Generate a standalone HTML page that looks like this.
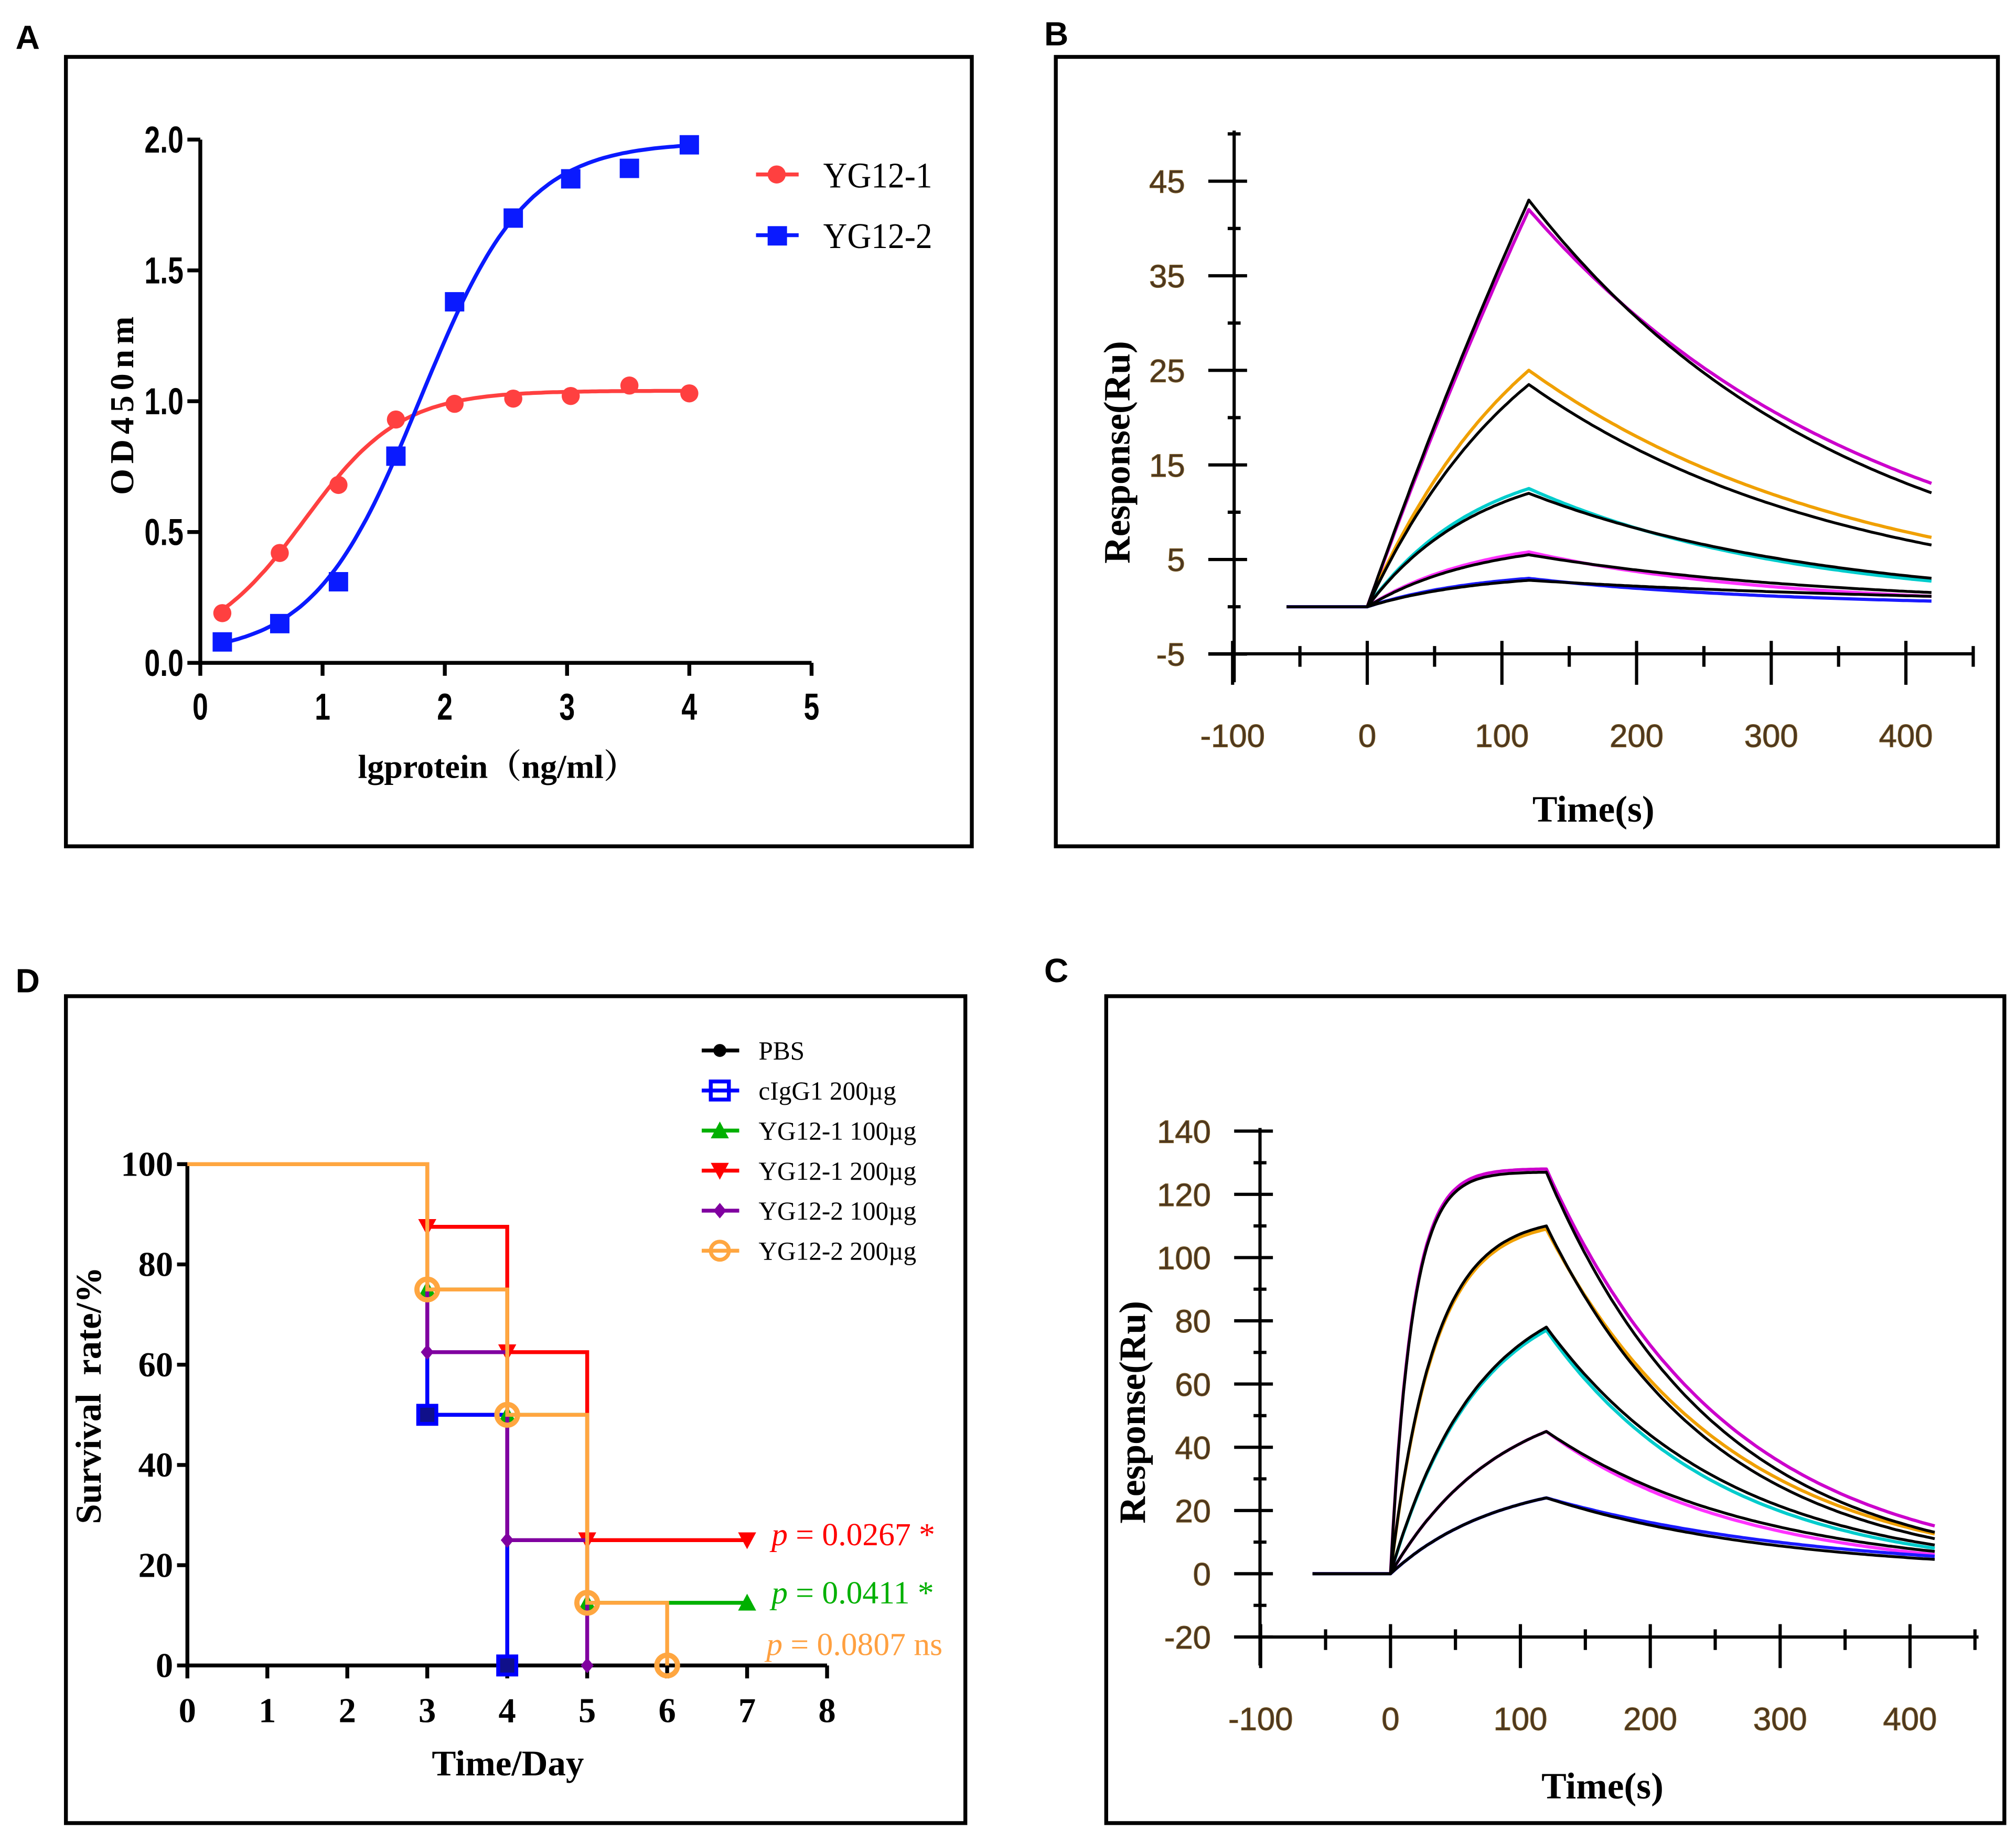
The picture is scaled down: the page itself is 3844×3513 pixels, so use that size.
<!DOCTYPE html>
<html><head><meta charset="utf-8"><style>
html,body{margin:0;padding:0;background:#fff;}
svg{display:block;}
.serif{font-family:"Liberation Serif",serif;}
.sans{font-family:"Liberation Sans",sans-serif;}
</style></head><body>
<svg id="fig" xmlns="http://www.w3.org/2000/svg" width="3844" height="3513" viewBox="0 0 1560 1425.6">
<rect width="1560" height="1425.6" fill="#fff"/>
<text x="12" y="38" class="sans" font-weight="bold" font-size="26">A</text>
<text x="808" y="35" class="sans" font-weight="bold" font-size="26">B</text>
<text x="12" y="768" class="sans" font-weight="bold" font-size="26">D</text>
<text x="808" y="760" class="sans" font-weight="bold" font-size="26">C</text>
<rect x="51" y="44" width="701" height="611" fill="none" stroke="#000" stroke-width="3"/>
<rect x="817" y="44" width="729" height="611" fill="none" stroke="#000" stroke-width="3"/>
<rect x="51" y="771" width="696" height="640" fill="none" stroke="#000" stroke-width="3"/>
<rect x="856" y="771" width="695" height="640" fill="none" stroke="#000" stroke-width="3"/>
<g id="A"></g>
<g id="B"></g>
<g id="C"></g>
<g id="D"></g>
</svg>
<script>
// ---------- Panel A data ----------
const aX = [0.18, 0.65, 1.13, 1.6, 2.08, 2.56, 3.03, 3.51, 4.0];
const aRed = [0.19, 0.42, 0.68, 0.93, 0.99, 1.01, 1.02, 1.06, 1.03];
const aBlue = [0.08, 0.15, 0.31, 0.79, 1.38, 1.70, 1.85, 1.89, 1.98];
const aRedFit = [0.05, 1.04, 0.85, 1.1];
const aBlueFit = [0.03, 1.99, 1.8, 1.0];
const aXTicks = ['0','1','2','3','4','5'];
const aYTicks = ['0.0','0.5','1.0','1.5','2.0'];
// ---------- Panel B data ----------
const bPeakFit = [43, 23.5, 12, 5.5, 2.8];
const bEndFit = [12, 6.5, 3, 1.5, 1.1];
const bPeakObs = [42, 25, 12.5, 5.8, 3.0];
const bEndObs = [13, 7.3, 2.7, 1.1, 0.6];
const bKa = [0.002, 0.008, 0.012, 0.012, 0.012];
const bColors = ['#cc00cc', '#f0a000', '#00cccc', '#ff33ff', '#1a1aff'];
const bXTicks = ['-100','0','100','200','300','400'];
const bYTicks = ['-5','5','15','25','35','45'];
// ---------- Panel C data ----------
const cPeakFit = [127, 110, 78, 45, 24];
const cEndFit = [13, 11, 9, 7, 4.5];
const cPeakObs = [128, 109, 77, 45, 24];
const cEndObs = [15, 12.5, 8, 6, 5.5];
const cKa = [0.06, 0.03, 0.015, 0.012, 0.012];
const cColors = ['#cc00cc', '#f0a000', '#00cccc', '#ff33ff', '#1a1aff'];
const cXTicks = ['-100','0','100','200','300','400'];
const cYTicks = ['-20','0','20','40','60','80','100','120','140'];
// ---------- Panel D data ----------
const dNames = ['PBS','cIgG1 200µg','YG12-1 100µg','YG12-1 200µg','YG12-2 100µg','YG12-2 200µg'];
const dColors = ['#000000','#0000ff','#00b000','#ff0000','#8000a0','#ffa640'];
const dDays = [0, 3, 4, 5, 6, 7];
const dPBS = [100, 50, 0, null, null, null];
const dIgG = [100, 50, 0, null, null, null];
const dYG11 = [100, 75, 50, 12.5, 12.5, 12.5];
const dYG12 = [100, 87.5, 62.5, 25, 25, 25];
const dYG21 = [100, 62.5, 25, 0, null, null];
const dYG22 = [100, 75, 50, 12.5, 0, null];
const dXTicks = ['0','1','2','3','4','5','6','7','8'];
const dYTicks = ['0','20','40','60','80','100'];
const dPvals = ['0.0267 *','0.0411 *','0.0807 ns'];

const NS = 'http://www.w3.org/2000/svg';
function mk(parent, tag, attrs, txt){
  const e = document.createElementNS(NS, tag);
  for (const k in attrs) e.setAttribute(k, attrs[k]);
  if (txt !== undefined) e.textContent = txt;
  parent.appendChild(e);
  return e;
}
function logistic(p, x){ return p[0] + (p[1]-p[0])/(1+Math.pow(10,(p[2]-x)*p[3])); }

// ================= Panel A =================
(function(){
  const g = document.getElementById('A');
  const sx = v => 155 + v*(628-155)/5;
  const sy = v => 513 - v*(513-108)/2;
  let ax = mk(g,'path',{d:`M155,108 V513 H628`,fill:'none',stroke:'#000','stroke-width':3});
   
  aXTicks.forEach((t,i)=>{
    const x = sx(+t);
    mk(g,'line',{x1:x,y1:513,x2:x,y2:523,stroke:'#000','stroke-width':3});
    const tx = mk(g,'text',{x:x,y:557,'text-anchor':'middle','font-family':'Liberation Sans, sans-serif','font-weight':'bold','font-size':29,transform:`translate(${x},0) scale(0.75,1) translate(${-x},0)`},t);
     
  });
  aYTicks.forEach(t=>{
    const y = sy(+t);
    mk(g,'line',{x1:145,y1:y,x2:155,y2:y,stroke:'#000','stroke-width':3});
    const tx = mk(g,'text',{x:142,y:y+10,'text-anchor':'end','font-family':'Liberation Sans, sans-serif','font-weight':'bold','font-size':29,transform:`translate(142,0) scale(0.75,1) translate(-142,0)`},t);
     
  });
  let yt = mk(g,'text',{x:0,y:0,transform:'translate(103,312) rotate(-90)','text-anchor':'middle','font-family':'Liberation Serif, serif','font-weight':'bold','font-size':26,'letter-spacing':4},'OD450nm');
   
  let xt = mk(g,'text',{x:385,y:602,'text-anchor':'middle','font-family':'Liberation Serif, Noto Serif CJK SC, serif','font-weight':'bold','font-size':26},'lgprotein（ng/ml）');
   
  function curve(p, col, name){
    let d=''; for(let i=0;i<=120;i++){const x=0.18+i*(4.0-0.18)/120; d+=(i?'L':'M')+sx(x).toFixed(1)+','+sy(logistic(p,x)).toFixed(1);}
    const e = mk(g,'path',{d:d,fill:'none',stroke:col,'stroke-width':3});
     
  }
  curve(aRedFit,'#ff4040','yg12-1-fit-curve');
  curve(aBlueFit,'#0a1aff','yg12-2-fit-curve');
  aX.forEach((x,i)=>{
    const c = mk(g,'circle',{cx:sx(x),cy:sy(aRed[i]),r:7,fill:'#ff4040'});
     
    const r = mk(g,'rect',{x:sx(x)-7.5,y:sy(aBlue[i])-7.5,width:15,height:15,fill:'#0a1aff'});
     
  });
  const lg = mk(g,'g',{});
   
  mk(lg,'line',{x1:585,y1:135,x2:618,y2:135,stroke:'#ff4040','stroke-width':3});
  mk(lg,'circle',{cx:601,cy:135,r:7,fill:'#ff4040'});
  mk(lg,'text',{x:637,y:145,'font-family':'Liberation Serif, serif','font-size':28,transform:'translate(637,0) scale(0.92,1) translate(-637,0)'},'YG12-1');
  mk(lg,'line',{x1:585,y1:182,x2:618,y2:182,stroke:'#0a1aff','stroke-width':3});
  mk(lg,'rect',{x:594,y:175,width:15,height:15,fill:'#0a1aff'});
  mk(lg,'text',{x:637,y:192,'font-family':'Liberation Serif, serif','font-size':28,transform:'translate(637,0) scale(0.92,1) translate(-637,0)'},'YG12-2');
})();

// ================= SPR panels =================
function sprPanel(id, o){
  const g = document.getElementById(id);
  const sx = v => o.x0 + v*o.pxPer100/100;
  const sy = v => o.yZero - v*o.pxPerUnit;
  const axc = '#000';
  let ya = mk(g,'line',{x1:o.yAxisX,y1:o.yTop,x2:o.yAxisX,y2:o.xAxisY+22,stroke:axc,'stroke-width':2.5});
   
  let xa = mk(g,'line',{x1:o.yAxisX-20,y1:o.xAxisY,x2:o.xEnd,y2:o.xAxisY,stroke:axc,'stroke-width':2.5});
   
  o.yTicks.forEach((t,i)=>{
    const y = sy(+t);
    mk(g,'line',{x1:o.yAxisX-20,y1:y,x2:o.yAxisX+10,y2:y,stroke:axc,'stroke-width':2.5});
    if(i<o.yTicks.length-1 || o.extraMinor){ const ym = sy(+t + o.yStep/2); mk(g,'line',{x1:o.yAxisX-5,y1:ym,x2:o.yAxisX+5,y2:ym,stroke:axc,'stroke-width':2.5}); }
    const tx = mk(g,'text',{x:o.yAxisX-38,y:y+9,'text-anchor':'end','font-family':'Liberation Sans, sans-serif','font-size':25,fill:'#4b3621',stroke:'#7a5a20','stroke-width':0.5},t);
     
  });
  o.xTicks.forEach(t=>{
    const x = sx(+t);
    mk(g,'line',{x1:x,y1:o.xAxisY-10,x2:x,y2:o.xAxisY+24,stroke:axc,'stroke-width':2.5});
    const xm = sx(+t+50);
    mk(g,'line',{x1:xm,y1:o.xAxisY-6,x2:xm,y2:o.xAxisY+10,stroke:axc,'stroke-width':2.5});
    const tx = mk(g,'text',{x:x,y:o.xAxisY+72,'text-anchor':'middle','font-family':'Liberation Sans, sans-serif','font-size':25,fill:'#4b3621',stroke:'#7a5a20','stroke-width':0.5},t);
     
  });
  let yt = mk(g,'text',{x:0,y:0,transform:`translate(${o.yTitleX},${o.yTitleY}) rotate(-90)`,'text-anchor':'middle','font-family':'Liberation Serif, serif','font-weight':'bold','font-size':29},'Response(Ru)');
   
  let xt = mk(g,'text',{x:o.xTitleX,y:o.xTitleY,'text-anchor':'middle','font-family':'Liberation Serif, serif','font-weight':'bold','font-size':29},'Time(s)');
   
  function trace(peak,end,ka,col,name,w){
    const kd = Math.log(peak/end)/300;
    let d = `M${sx(-60).toFixed(1)},${sy(0).toFixed(1)}L${sx(0).toFixed(1)},${sy(0).toFixed(1)}`;
    for(let t=2;t<=120;t+=2){ const v = peak*(1-Math.exp(-ka*t))/(1-Math.exp(-ka*120)); d+=`L${sx(t).toFixed(1)},${sy(v).toFixed(1)}`; }
    for(let t=122;t<=420;t+=3){ const v = peak*Math.exp(-kd*(t-120)); d+=`L${sx(t).toFixed(1)},${sy(v).toFixed(1)}`; }
    const e = mk(g,'path',{d:d,fill:'none',stroke:col,'stroke-width':w,'stroke-linejoin':'round'});
     
  }
  o.peakObs.forEach((p,i)=>trace(p,o.endObs[i],o.ka[i],o.colors[i],id.toLowerCase()+'-observed-trace',2.5));
  o.peakFit.forEach((p,i)=>trace(p,o.endFit[i],o.ka[i],'#000',id.toLowerCase()+'-fit-trace',2.2));
}
sprPanel('B',{x0:1058,pxPer100:104.2,yZero:469.6,pxPerUnit:7.32,yAxisX:955,yTop:101,xAxisY:506,xEnd:1527,
  yTicks:bYTicks,yStep:10,xTicks:bXTicks,yTitleX:874,yTitleY:350,xTitleX:1233,xTitleY:636,
  peakFit:bPeakFit,endFit:bEndFit,peakObs:bPeakObs,endObs:bEndObs,ka:bKa,colors:bColors,extraMinor:true});
sprPanel('C',{x0:1076,pxPer100:100.5,yZero:1218,pxPerUnit:2.447,yAxisX:975,yTop:873,xAxisY:1267,xEnd:1531,
  yTicks:cYTicks,yStep:20,xTicks:cXTicks,yTitleX:886,yTitleY:1093,xTitleX:1240,xTitleY:1392,
  peakFit:cPeakFit,endFit:cEndFit,peakObs:cPeakObs,endObs:cEndObs,ka:cKa,colors:cColors,extraMinor:false});

// ================= Panel D =================
(function(){
  const g = document.getElementById('D');
  const sx = v => 145 + v*(640-145)/8;
  const sy = v => 1289 - v*(1289-901)/100;
  let ax = mk(g,'path',{d:`M145,901 V1289 H640`,fill:'none',stroke:'#000','stroke-width':3});
   
  dXTicks.forEach(t=>{
    const x = sx(+t);
    mk(g,'line',{x1:x,y1:1289,x2:x,y2:1299,stroke:'#000','stroke-width':3});
    const tx = mk(g,'text',{x:x,y:1333,'text-anchor':'middle','font-family':'Liberation Serif, serif','font-weight':'bold','font-size':27},t);
     
  });
  dYTicks.forEach(t=>{
    const y = sy(+t);
    mk(g,'line',{x1:137,y1:y,x2:145,y2:y,stroke:'#000','stroke-width':3});
    const tx = mk(g,'text',{x:134,y:y+9,'text-anchor':'end','font-family':'Liberation Serif, serif','font-weight':'bold','font-size':27},t);
     
  });
  let yt = mk(g,'text',{x:0,y:0,transform:'translate(78,1080) rotate(-90)','text-anchor':'middle','font-family':'Liberation Serif, serif','font-weight':'bold','font-size':28,style:'white-space:pre'},'Survival  rate/%');
   
  let xt = mk(g,'text',{x:393,y:1374,'text-anchor':'middle','font-family':'Liberation Serif, serif','font-weight':'bold','font-size':28},'Time/Day');
   

  const series = [dPBS, dIgG, dYG11, dYG12, dYG21, dYG22];
  function marker(parent, i, x, y, big){
    const c = dColors[i];
    if(i===0) { if(big) mk(parent,'rect',{x:x-7,y:y-7,width:14,height:14,fill:'#000'}); else mk(parent,'circle',{cx:x,cy:y,r:5,fill:c}); }
    else if(i===1) mk(parent,'rect',{x:x-7,y:y-7,width:14,height:14,fill:big?'#10108a':'none',stroke:c,'stroke-width':3});
    else if(i===2) mk(parent,'path',{d:`M${x},${y-7}L${x+7},${y+6}L${x-7},${y+6}Z`,fill:c});
    else if(i===3) mk(parent,'path',{d:`M${x-7},${y-6}L${x+7},${y-6}L${x},${y+7}Z`,fill:c});
    else if(i===4) mk(parent,'path',{d:`M${x},${y-6}L${x+5},${y}L${x},${y+6}L${x-5},${y}Z`,fill:c});
    else mk(parent,'circle',{cx:x,cy:y,r:big?8:7,fill:'none',stroke:c,'stroke-width':big?4:3});
  }
  series.forEach((s,i)=>{
    let d=''; let last=null;
    for(let k=0;k<dDays.length;k++){
      if(s[k]===null) break;
      const x=sx(dDays[k]), y=sy(s[k]);
      if(last===null) d+=`M${x},${y}`; else d+=`H${x}V${y}`;
      last=[x,y];
    }
    const e = mk(g,'path',{d:d,fill:'none',stroke:dColors[i],'stroke-width':3});
     
    const mg = mk(g,'g',{});
     
    for(let k=1;k<dDays.length;k++){
      if(s[k]===null) break;
      if(i>=2 && s[k]===s[k-1] && k!==dDays.length-1) continue;
      marker(mg,i,sx(dDays[k]),sy(s[k]),true);
    }
  });
  dNames.forEach((n,i)=>{
    const y = 813 + i*31;
    const lg = mk(g,'g',{});
     
    mk(lg,'line',{x1:543,y1:y,x2:572,y2:y,stroke:dColors[i],'stroke-width':3});
    marker(lg,i,557,y,false);
    mk(lg,'text',{x:587,y:y+7,'font-family':'Liberation Serif, serif','font-size':20},n);
  });
  const pc = ['#ff0000','#00b000','#ffa040'];
  const py = [1196, 1241, 1281];
  dPvals.forEach((p,i)=>{
    const t = mk(g,'text',{x:i===2?593:597,y:py[i],'font-family':'Liberation Serif, serif','font-size':25,fill:pc[i]});
     
    mk(t,'tspan',{'font-style':'italic'},'p');
    mk(t,'tspan',{},' = '+p);
  });
})();
</script>
</body></html>
